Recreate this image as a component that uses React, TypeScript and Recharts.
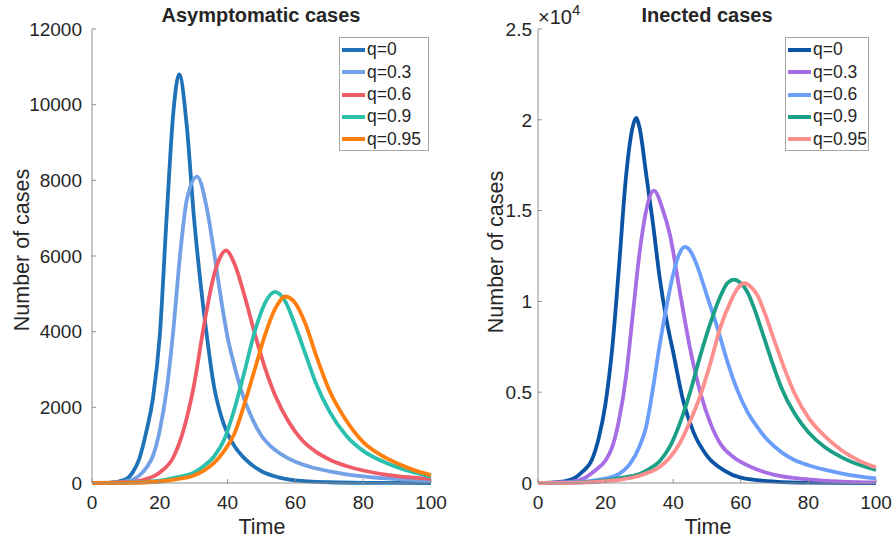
import React from "react";
import { LineChart, Line, XAxis, YAxis, Legend } from "recharts";

const FONT = '"Liberation Sans", Arial, Helvetica, sans-serif';
const AXIS = "#8f8f8f";
const INK = "#262626";

// shared axes
const timeTicks = [0, 20, 40, 60, 80, 100];
const asymTicks = [0, 2000, 4000, 6000, 8000, 10000, 12000];
const infTicks = [0, 5000, 10000, 15000, 20000, 25000];
const qLabels = ["q=0", "q=0.3", "q=0.6", "q=0.9", "q=0.95"];

type Pair = [number, number];

// Asymptomatic cases, [time, cases]
const asymQ0: Pair[] = [[0, 0], [5, 5], [10, 100], [12, 280], [14, 650], [16, 1350], [18, 2250], [20, 3900], [22, 7000], [24, 9800], [25.7, 10800], [28, 9400], [30, 7100], [32, 5300], [34, 3800], [36, 2550], [38, 1800], [40, 1300], [42, 980], [45, 650], [50, 310], [55, 150], [60, 70], [70, 20], [80, 5], [90, 2], [100, 0]];
const asymQ03: Pair[] = [[0, 0], [5, 5], [10, 40], [14, 200], [16, 400], [18, 720], [20, 1400], [22, 2450], [24, 4050], [26, 6050], [28, 7500], [31, 8100], [34, 7200], [36, 6100], [38, 4900], [40, 3850], [42, 3100], [44, 2450], [47, 1750], [50, 1250], [53, 950], [56, 750], [60, 560], [65, 410], [70, 310], [80, 175], [90, 100], [100, 55]];
const asymQ06: Pair[] = [[0, 0], [10, 20], [15, 80], [20, 280], [24, 680], [27, 1400], [30, 2550], [33, 4150], [36, 5500], [38, 6000], [39.5, 6150], [42, 5800], [45, 4950], [48, 3950], [51, 3050], [54, 2320], [58, 1620], [62, 1130], [66, 830], [70, 620], [75, 450], [80, 330], [90, 180], [100, 110]];
const asymQ09: Pair[] = [[0, 0], [10, 5], [20, 60], [25, 150], [30, 270], [33, 450], [36, 700], [39, 1150], [42, 1950], [45, 2950], [48, 4000], [51, 4750], [54, 5050], [57, 4800], [60, 4150], [63, 3400], [66, 2650], [70, 1900], [75, 1250], [80, 850], [85, 600], [90, 420], [95, 280], [100, 170]];
const asymQ095: Pair[] = [[0, 0], [10, 5], [20, 40], [25, 100], [30, 200], [33, 330], [36, 530], [39, 850], [42, 1300], [45, 2100], [48, 3000], [51, 3900], [54, 4600], [57, 4930], [60, 4750], [63, 4200], [66, 3400], [70, 2450], [75, 1650], [80, 1080], [85, 750], [90, 520], [95, 340], [100, 210]];

// Infected cases, [time, cases]
const infQ0: Pair[] = [[0, 0], [5, 30], [10, 200], [13, 600], [16, 1300], [18, 2500], [20, 4400], [22, 7500], [24, 12000], [26, 16800], [28, 19600], [29, 20100], [30, 19600], [32, 17000], [34, 14300], [36, 11300], [38, 9000], [40, 7200], [43, 4500], [46, 2800], [50, 1500], [55, 700], [60, 300], [70, 80], [80, 20], [100, 0]];
const infQ03: Pair[] = [[0, 0], [10, 80], [14, 300], [17, 700], [20, 1250], [22, 2000], [24, 3500], [26, 5800], [28, 9200], [30, 12600], [32, 15000], [34.3, 16100], [37, 15000], [39, 13700], [42, 10500], [45, 7400], [48, 5000], [51, 3300], [54, 2150], [58, 1400], [63, 880], [70, 450], [80, 200], [90, 80], [100, 30]];
const infQ06: Pair[] = [[0, 0], [10, 30], [15, 100], [20, 250], [24, 500], [27, 1000], [30, 2000], [32, 3100], [34, 5200], [36, 7600], [38, 9700], [40, 11500], [42, 12700], [43.5, 13000], [45, 12800], [47, 12000], [50, 10300], [53, 8600], [56, 6700], [59, 5100], [62, 3900], [65, 3050], [68, 2350], [72, 1700], [76, 1250], [80, 980], [85, 720], [90, 520], [95, 370], [100, 260]];
const infQ09: Pair[] = [[0, 0], [10, 20], [20, 150], [25, 300], [30, 500], [33, 780], [36, 1200], [39, 2000], [42, 3300], [45, 5000], [48, 7000], [51, 8800], [54, 10300], [56, 11000], [58, 11200], [60, 11000], [62, 10500], [64, 9600], [66, 8500], [69, 6800], [72, 5250], [76, 3800], [80, 2800], [85, 1950], [90, 1400], [95, 1000], [100, 720]];
const infQ095: Pair[] = [[0, 0], [10, 10], [20, 100], [25, 200], [30, 400], [33, 600], [36, 880], [39, 1400], [42, 2200], [45, 3400], [48, 4800], [51, 6600], [54, 8600], [57, 10000], [59, 10700], [61, 11000], [63, 10800], [65, 10300], [67, 9400], [70, 7800], [73, 6250], [76, 4900], [80, 3600], [85, 2550], [90, 1780], [95, 1230], [100, 860]];

const asymColors = ["#1f72b8", "#72a1e5", "#ef5b66", "#2bbfae", "#ff7f0e"];
const infColors = ["#0b53a5", "#a66de4", "#6b9efb", "#1b9f86", "#fd8f8f"];

const toRows = (pairs: Pair[]) => pairs.map(([t, v]) => ({ t, v }));

const renderLegend = (width: number) => (props: any) => (
  <div
    style={{
      width,
      boxSizing: "border-box",
      border: "1px solid #a6a6a6",
      background: "#fff",
      padding: "1px 0 0 2px",
      fontSize: 17.5,
      color: INK,
      fontFamily: FONT,
    }}
  >
    {(props.payload || []).map((p: any) => (
      <div key={p.value} style={{ display: "flex", alignItems: "center", height: 22.3 }}>
        <span style={{ display: "inline-block", width: 23, height: 4, background: p.color, marginRight: 2 }} />
        <span style={{ lineHeight: 1 }}>{p.value}</span>
      </div>
    ))}
  </div>
);

function Panel({
  left, series, colors, yTicks, yFmt, marginLeft, marginRight, tickGap, legendX, legendW,
}: {
  left: number;
  series: Pair[][];
  colors: string[];
  yTicks: number[];
  yFmt?: (v: number) => string;
  marginLeft: number;
  marginRight: number;
  tickGap: number;
  legendX: number;
  legendW: number;
}) {
  const yMax = yTicks[yTicks.length - 1];
  return (
    <div style={{ position: "absolute", left, top: 0 }}>
      <LineChart
        width={448}
        height={543}
        margin={{ top: 29, right: marginRight, bottom: 0, left: marginLeft }}
        style={{ fontFamily: FONT }}
      >
        <XAxis
          xAxisId="b" dataKey="t" type="number" domain={[0, 100]} ticks={timeTicks} interval={0}
          height={60} stroke={AXIS} tickSize={-4} tickMargin={17}
          tick={{ fill: INK, fontSize: 19 }}
        />
        <XAxis
          xAxisId="t" dataKey="t" type="number" orientation="top" domain={[0, 100]} ticks={timeTicks}
          interval={0} height={0} stroke={AXIS} tickSize={-4} tickFormatter={() => ""}
        />
        <YAxis
          yAxisId="l" type="number" domain={[0, yMax]} ticks={yTicks} interval={0}
          width={60} stroke={AXIS} tickSize={-4} tickMargin={tickGap} tickFormatter={yFmt}
          tick={{ fill: INK, fontSize: 19 }}
        />
        <YAxis
          yAxisId="r" type="number" orientation="right" domain={[0, yMax]} ticks={yTicks} interval={0}
          width={0} stroke={AXIS} tickSize={-4} tickFormatter={() => ""}
        />
        <Legend
          layout="vertical" align="center" verticalAlign="middle"
          content={renderLegend(legendW)}
          wrapperStyle={{ left: legendX, top: 37, width: legendW, height: "auto" }}
        />
        {series.map((s, i) => (
          <Line
            key={qLabels[i]} xAxisId="b" yAxisId="l" data={toRows(s)} dataKey="v" name={qLabels[i]}
            type="monotone" stroke={colors[i]} strokeWidth={3.8} dot={false} isAnimationActive={false}
          />
        ))}
      </LineChart>
    </div>
  );
}

const textBase: React.CSSProperties = {
  position: "absolute",
  whiteSpace: "nowrap",
  lineHeight: 1,
  color: INK,
  fontFamily: FONT,
};

export default function App() {
  return (
    <div style={{ position: "absolute", left: 0, top: 0, width: 896, height: 543, background: "#fff", fontFamily: FONT }}>
      <Panel
        left={0}
        series={[asymQ0, asymQ03, asymQ06, asymQ09, asymQ095]}
        colors={asymColors}
        yTicks={asymTicks}
        marginLeft={32}
        marginRight={17}
        tickGap={14}
        legendX={339}
        legendW={90}
      />
      <Panel
        left={448}
        series={[infQ0, infQ03, infQ06, infQ09, infQ095]}
        colors={infColors}
        yTicks={infTicks}
        yFmt={(v) => String(v / 10000)}
        marginLeft={30}
        marginRight={20}
        tickGap={10}
        legendX={337}
        legendW={84}
      />

      {/* titles */}
      <div style={{ ...textBase, left: 261, top: 5, fontSize: 20, fontWeight: "bold", transform: "translateX(-50%)" }}>
        Asymptomatic cases
      </div>
      <div style={{ ...textBase, left: 707, top: 5, fontSize: 20, fontWeight: "bold", transform: "translateX(-50%)" }}>
        Inected cases
      </div>

      {/* exponent of the right y axis */}
      <div style={{ ...textBase, left: 538, top: 7, fontSize: 20 }}>
        ×10<span style={{ fontSize: 15, position: "relative", top: -9 }}>4</span>
      </div>

      {/* axis labels */}
      <div style={{ ...textBase, left: 262, top: 517, fontSize: 21.5, transform: "translateX(-50%)" }}>Time</div>
      <div style={{ ...textBase, left: 708, top: 517, fontSize: 21.5, transform: "translateX(-50%)" }}>Time</div>
      <div style={{ ...textBase, left: 22.5, top: 250, fontSize: 21.5, transform: "translate(-50%, -50%) rotate(-90deg)" }}>
        Number of cases
      </div>
      <div style={{ ...textBase, left: 497, top: 252, fontSize: 21.5, transform: "translate(-50%, -50%) rotate(-90deg)" }}>
        Number of cases
      </div>
    </div>
  );
}
